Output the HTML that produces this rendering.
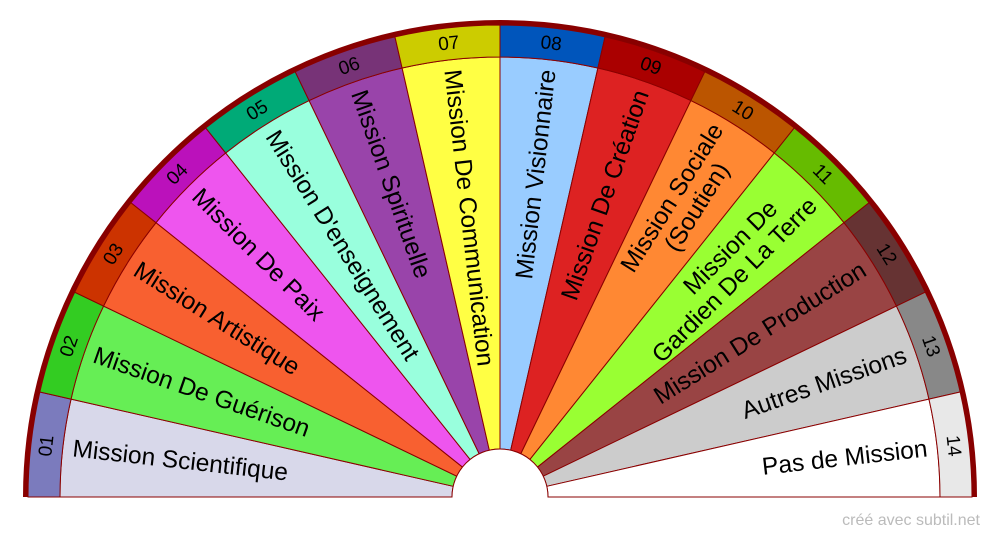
<!DOCTYPE html>
<html><head><meta charset="utf-8"><style>
html,body{margin:0;padding:0;background:#fff;overflow:hidden;width:1000px;height:540px;}
svg{display:block;}
text{font-family:"Liberation Sans",sans-serif;}
.l{font-size:24.5px;fill:#000;dominant-baseline:central;}
.n{font-size:19px;fill:#000;dominant-baseline:central;text-anchor:middle;}
</style></head><body>
<svg width="1000" height="540" viewBox="0 0 1000 540" xmlns="http://www.w3.org/2000/svg">
<defs>
<path id="w" d="M60,497 A440,440 0 0 1 71.03,399.09 L453.20,486.32 A48,48 0 0 0 452,497 Z"/>
<path id="b" d="M28,497 A472,472 0 0 1 39.83,391.97 L71.03,399.09 A440,440 0 0 0 60,497 Z"/>
</defs>
<g stroke="#8a0000" stroke-width="1">
<use href="#w" fill="#d8d8ea" transform="rotate(0 500 497)"/><use href="#b" fill="#7b7bbd" transform="rotate(0 500 497)"/>
<use href="#w" fill="#66ee55" transform="rotate(12.857 500 497)"/><use href="#b" fill="#33cc22" transform="rotate(12.857 500 497)"/>
<use href="#w" fill="#f86030" transform="rotate(25.714 500 497)"/><use href="#b" fill="#cc3300" transform="rotate(25.714 500 497)"/>
<use href="#w" fill="#ee55ee" transform="rotate(38.571 500 497)"/><use href="#b" fill="#bb11bb" transform="rotate(38.571 500 497)"/>
<use href="#w" fill="#99ffdd" transform="rotate(51.429 500 497)"/><use href="#b" fill="#00aa77" transform="rotate(51.429 500 497)"/>
<use href="#w" fill="#9944aa" transform="rotate(64.286 500 497)"/><use href="#b" fill="#773377" transform="rotate(64.286 500 497)"/>
<use href="#w" fill="#ffff44" transform="rotate(77.143 500 497)"/><use href="#b" fill="#cccc00" transform="rotate(77.143 500 497)"/>
<use href="#w" fill="#99ccff" transform="rotate(90 500 497)"/><use href="#b" fill="#0055bb" transform="rotate(90 500 497)"/>
<use href="#w" fill="#dd2222" transform="rotate(102.857 500 497)"/><use href="#b" fill="#aa0000" transform="rotate(102.857 500 497)"/>
<use href="#w" fill="#ff8833" transform="rotate(115.714 500 497)"/><use href="#b" fill="#bb5500" transform="rotate(115.714 500 497)"/>
<use href="#w" fill="#99ff33" transform="rotate(128.571 500 497)"/><use href="#b" fill="#66bb00" transform="rotate(128.571 500 497)"/>
<use href="#w" fill="#994444" transform="rotate(141.429 500 497)"/><use href="#b" fill="#663333" transform="rotate(141.429 500 497)"/>
<use href="#w" fill="#cccccc" transform="rotate(154.286 500 497)"/><use href="#b" fill="#888888" transform="rotate(154.286 500 497)"/>
<use href="#w" fill="#ffffff" transform="rotate(167.143 500 497)"/><use href="#b" fill="#e8e8e8" transform="rotate(167.143 500 497)"/>
</g>
<path d="M25.5,497 A474.5,474.5 0 0 1 974.5,497" fill="none" stroke="#880000" stroke-width="5"/>
<g>
<text class="n" x="44" y="497" transform="rotate(6.43 500 497) rotate(-90 44 497)">01</text>
<text class="n" x="44" y="497" transform="rotate(19.29 500 497) rotate(-90 44 497)">02</text>
<text class="n" x="44" y="497" transform="rotate(32.14 500 497) rotate(-90 44 497)">03</text>
<text class="n" x="44" y="497" transform="rotate(45 500 497) rotate(-90 44 497)">04</text>
<text class="n" x="44" y="497" transform="rotate(57.86 500 497) rotate(-90 44 497)">05</text>
<text class="n" x="44" y="497" transform="rotate(70.71 500 497) rotate(-90 44 497)">06</text>
<text class="n" x="44" y="497" transform="rotate(83.57 500 497) rotate(-90 44 497)">07</text>
<text class="n" x="44" y="497" transform="rotate(96.43 500 497) rotate(-90 44 497)">08</text>
<text class="n" x="44" y="497" transform="rotate(109.29 500 497) rotate(-90 44 497)">09</text>
<text class="n" x="44" y="497" transform="rotate(122.14 500 497) rotate(-90 44 497)">10</text>
<text class="n" x="44" y="497" transform="rotate(135 500 497) rotate(-90 44 497)">11</text>
<text class="n" x="44" y="497" transform="rotate(147.86 500 497) rotate(-90 44 497)">12</text>
<text class="n" x="44" y="497" transform="rotate(160.71 500 497) rotate(-90 44 497)">13</text>
<text class="n" x="44" y="497" transform="rotate(173.57 500 497) rotate(-90 44 497)">14</text>
</g>
<g>
<text class="l" x="70" y="497" transform="rotate(6.43 500 497)">Mission Scientifique</text>
<text class="l" x="70" y="497" transform="rotate(19.29 500 497)">Mission De Guérison</text>
<text class="l" x="70" y="497" transform="rotate(32.14 500 497)">Mission Artistique</text>
<text class="l" x="70" y="497" transform="rotate(45 500 497)">Mission De Paix</text>
<text class="l" x="70" y="497" transform="rotate(57.86 500 497)">Mission D'enseignement</text>
<text class="l" x="70" y="497" transform="rotate(70.71 500 497)">Mission Spirituelle</text>
<text class="l" x="70" y="497" transform="rotate(83.57 500 497)">Mission De Communication</text>
</g>
<g text-anchor="end">
<text class="l" x="930" y="497" transform="rotate(-83.57 500 497)">Mission Visionnaire</text>
<text class="l" x="930" y="497" transform="rotate(-70.71 500 497)">Mission De Création</text>
<text class="l" x="930" y="484" transform="rotate(-57.86 500 497)">Mission Sociale</text>
<text class="l" x="900" y="510" transform="rotate(-57.86 500 497)">(Soutien)</text>
<text class="l" x="900" y="484" transform="rotate(-45 500 497)">Mission De</text>
<text class="l" x="930" y="510" transform="rotate(-45 500 497)">Gardien De La Terre</text>
<text class="l" x="930" y="497" transform="rotate(-32.14 500 497)">Mission De Production</text>
<text class="l" x="930" y="497" transform="rotate(-19.29 500 497)">Autres Missions</text>
<text class="l" x="930" y="497" transform="rotate(-6.43 500 497)">Pas de Mission</text>
</g>
<path d="M452,497 A48,48 0 0 1 548,497" fill="#fff" stroke="#8a0000" stroke-width="1"/>
<text x="980" y="525" text-anchor="end" style="font-size:16px;fill:#bbbbbb;">créé avec subtil.net</text>
</svg>
</body></html>
